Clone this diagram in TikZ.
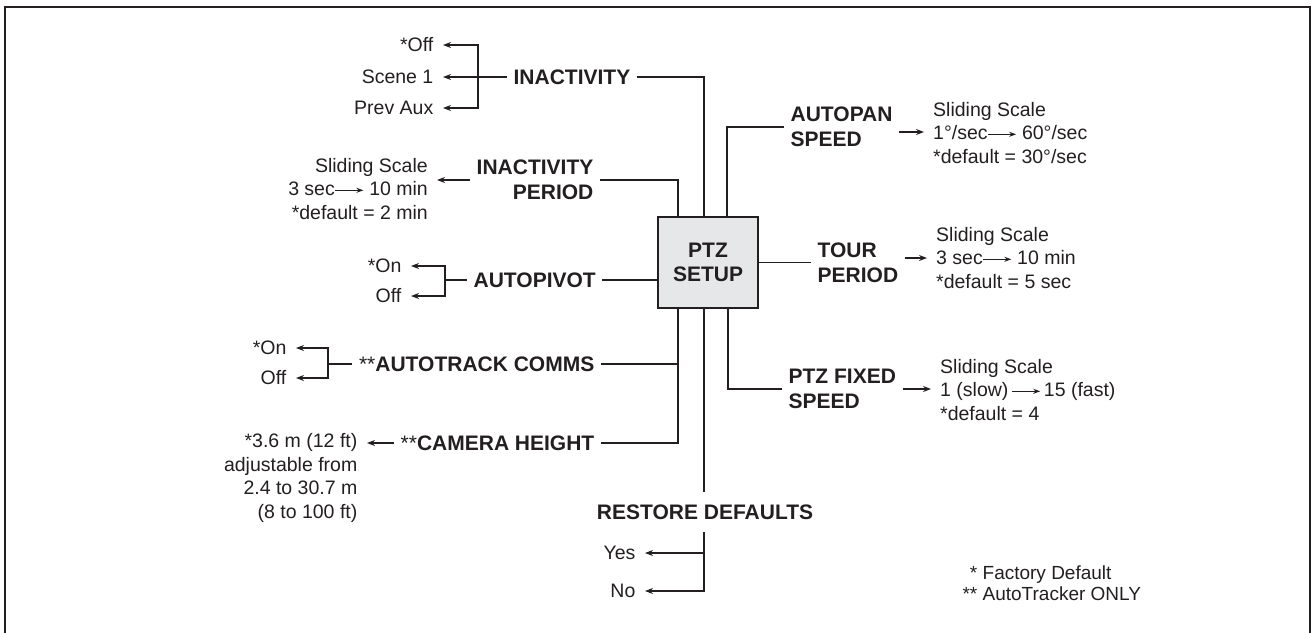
\documentclass[tikz,border=0pt]{standalone}
\usepackage{fontspec}
\setmainfont{Liberation Sans}
\usepackage{tikz}
\usetikzlibrary{arrows.meta}
\usetikzlibrary{positioning}

\definecolor{ink}{HTML}{231F20}
\definecolor{boxgray}{HTML}{E6E7E8}

\newcommand{\sarr}{\tikz[baseline=-0.55ex]\draw[-{Stealth[length=7pt,width=5pt]}, line width=1pt] (0pt,0pt) -- (28pt,0pt);}

\begin{document}
\begin{tikzpicture}[x=1pt, y=-1pt, ink, line width=1.3pt,
  menu/.style={font=\bfseries\fontsize{21}{24.5}\selectfont, inner xsep=6pt, inner ysep=0pt},
  opt/.style={font=\fontsize{19.5}{23.5}\selectfont, inner xsep=9pt, inner ysep=0pt},
  >={Stealth[length=8pt,width=6pt]}]
  \useasboundingbox (0,0) rectangle (1314,633);
  \draw[line width=2.6pt] (5,633) -- (5,7) -- (1310,7) -- (1310,633);

  \node[draw, line width=2.8pt, fill=boxgray, minimum width=100pt, minimum height=91pt, align=center, font=\bfseries\fontsize{21}{24}\selectfont] (PTZ) at (708,262.5) {PTZ\\SETUP};
  \coordinate (VL) at ([xshift=-30pt]PTZ.south);
  \coordinate (VC) at ([xshift=-4pt]PTZ.south);

  \node[menu, anchor=west] (INA) at (507,77) {INACTIVITY};
  \node[opt, anchor=east] (OFF1) at (443,45) {*Off};
  \node[opt, anchor=east] (SCN) at (443,77) {Scene 1};
  \node[opt, anchor=east] (PRV) at (443,108) {Prev Aux};
  \coordinate (INAB) at (478,77);

  \node[menu, anchor=east, align=right] (IPD) at (600,180) {INACTIVITY\\PERIOD};
  \node[opt, anchor=east, align=right] (IPV) at (437,189) {Sliding Scale\\3 sec\sarr\ 10 min\\*default = 2 min};

  \node[menu, anchor=west] (APV) at (467,280) {AUTOPIVOT};
  \node[opt, anchor=east] (APON) at (411,266) {*On};
  \node[opt, anchor=east] (APOFF) at (411,296) {Off};
  \coordinate (APVB) at (445,280);

  \node[menu, anchor=east] (ATC) at (601,364) {{\mdseries **}AUTOTRACK COMMS};
  \node[opt, anchor=east] (ATON) at (296,348) {*On};
  \node[opt, anchor=east] (ATOFF) at (296,378) {Off};
  \coordinate (ATCB) at (328,364);

  \node[menu, anchor=east] (CAM) at (601,443) {{\mdseries **}CAMERA HEIGHT};
  \node[opt, anchor=north east, align=right] (CAMV) at (367,433) {*3.6 m (12 ft)\\adjustable from\\2.4 to 30.7 m\\(8 to 100 ft)};

  \node[menu, inner ysep=12pt] (RSD) at (705,512) {RESTORE DEFAULTS};
  \node[opt, anchor=east] (YES) at (645,553) {Yes};
  \node[opt, anchor=east] (NO) at (645,591) {No};

  \node[menu, anchor=west, align=left] (APS) at (784,127) {AUTOPAN\\SPEED};
  \node[opt, anchor=west, align=left] (APSV) at (924,133) {Sliding Scale\\1°/sec\sarr\ 60°/sec\\*default = 30°/sec};
  \coordinate (APSA) at ([yshift=-5pt]APS.east);

  \node[menu, anchor=west, align=left] (TRP) at (811,263) {TOUR\\PERIOD};
  \node[opt, anchor=west, align=left] (TRPV) at (927,258) {Sliding Scale\\3 sec\sarr\ 10 min\\*default = 5 sec};
  \coordinate (TRPA) at ([yshift=5pt]TRP.east);

  \node[menu, anchor=west, align=left] (PFS) at (782,389) {PTZ FIXED\\SPEED};
  \node[opt, anchor=west, align=left] (PFSV) at (931,390) {Sliding Scale\\1 (slow)\,\sarr\,15 (fast)\\*default = 4};

  \node[opt, anchor=west, align=left, inner xsep=0pt, font=\fontsize{19}{21}\selectfont] (NTE) at (982,583) {\llap{* }Factory Default\\\llap{** }AutoTracker ONLY};

  \draw (INA.east) -| ([xshift=-4pt]PTZ.north) ;
  \draw[->] (INA.west) to (SCN.east) ;
  \draw[->] (INAB) |- (OFF1.east) ;
  \draw[->] (INAB) |- (PRV.east) ;

  \draw (IPD.east) -| ([xshift=-30pt]PTZ.north) ;
  \draw[->] (IPD.west) to (IPD.west -| IPV.east) ;

  \draw (APV.east) to (APV.east -| PTZ.west) ;
  \draw (APV.west) to (APVB) ;
  \draw[->] (APVB) |- (APON.east) ;
  \draw[->] (APVB) |- (APOFF.east) ;

  \draw (ATC.east) to (ATC.east -| VL) ;
  \draw (ATC.west) to (ATCB) ;
  \draw[->] (ATCB) |- (ATON.east) ;
  \draw[->] (ATCB) |- (ATOFF.east) ;

  \draw (VL) |- (CAM.east) ;
  \draw[->] (CAM.west) to (CAM.west -| CAMV.east) ;

  \draw (VC) to (VC |- RSD.north) ;
  \draw[->] (VC |- RSD.south) |- (YES.east) ;
  \draw[->] (VC |- RSD.south) |- (NO.east) ;

  \draw ([xshift=19pt]PTZ.north) |- (APS.west) ;
  \draw[->] (APSA) to (APSA -| APSV.west) ;

  \draw (PTZ.east) to (PTZ.east -| TRP.west) ;
  \draw[->] (TRPA) to (TRPA -| TRPV.west) ;

  \draw ([xshift=20pt]PTZ.south) |- (PFS.west) ;
  \draw[->] (PFS.east) to (PFS.east -| PFSV.west) ;
\end{tikzpicture}
\end{document}
